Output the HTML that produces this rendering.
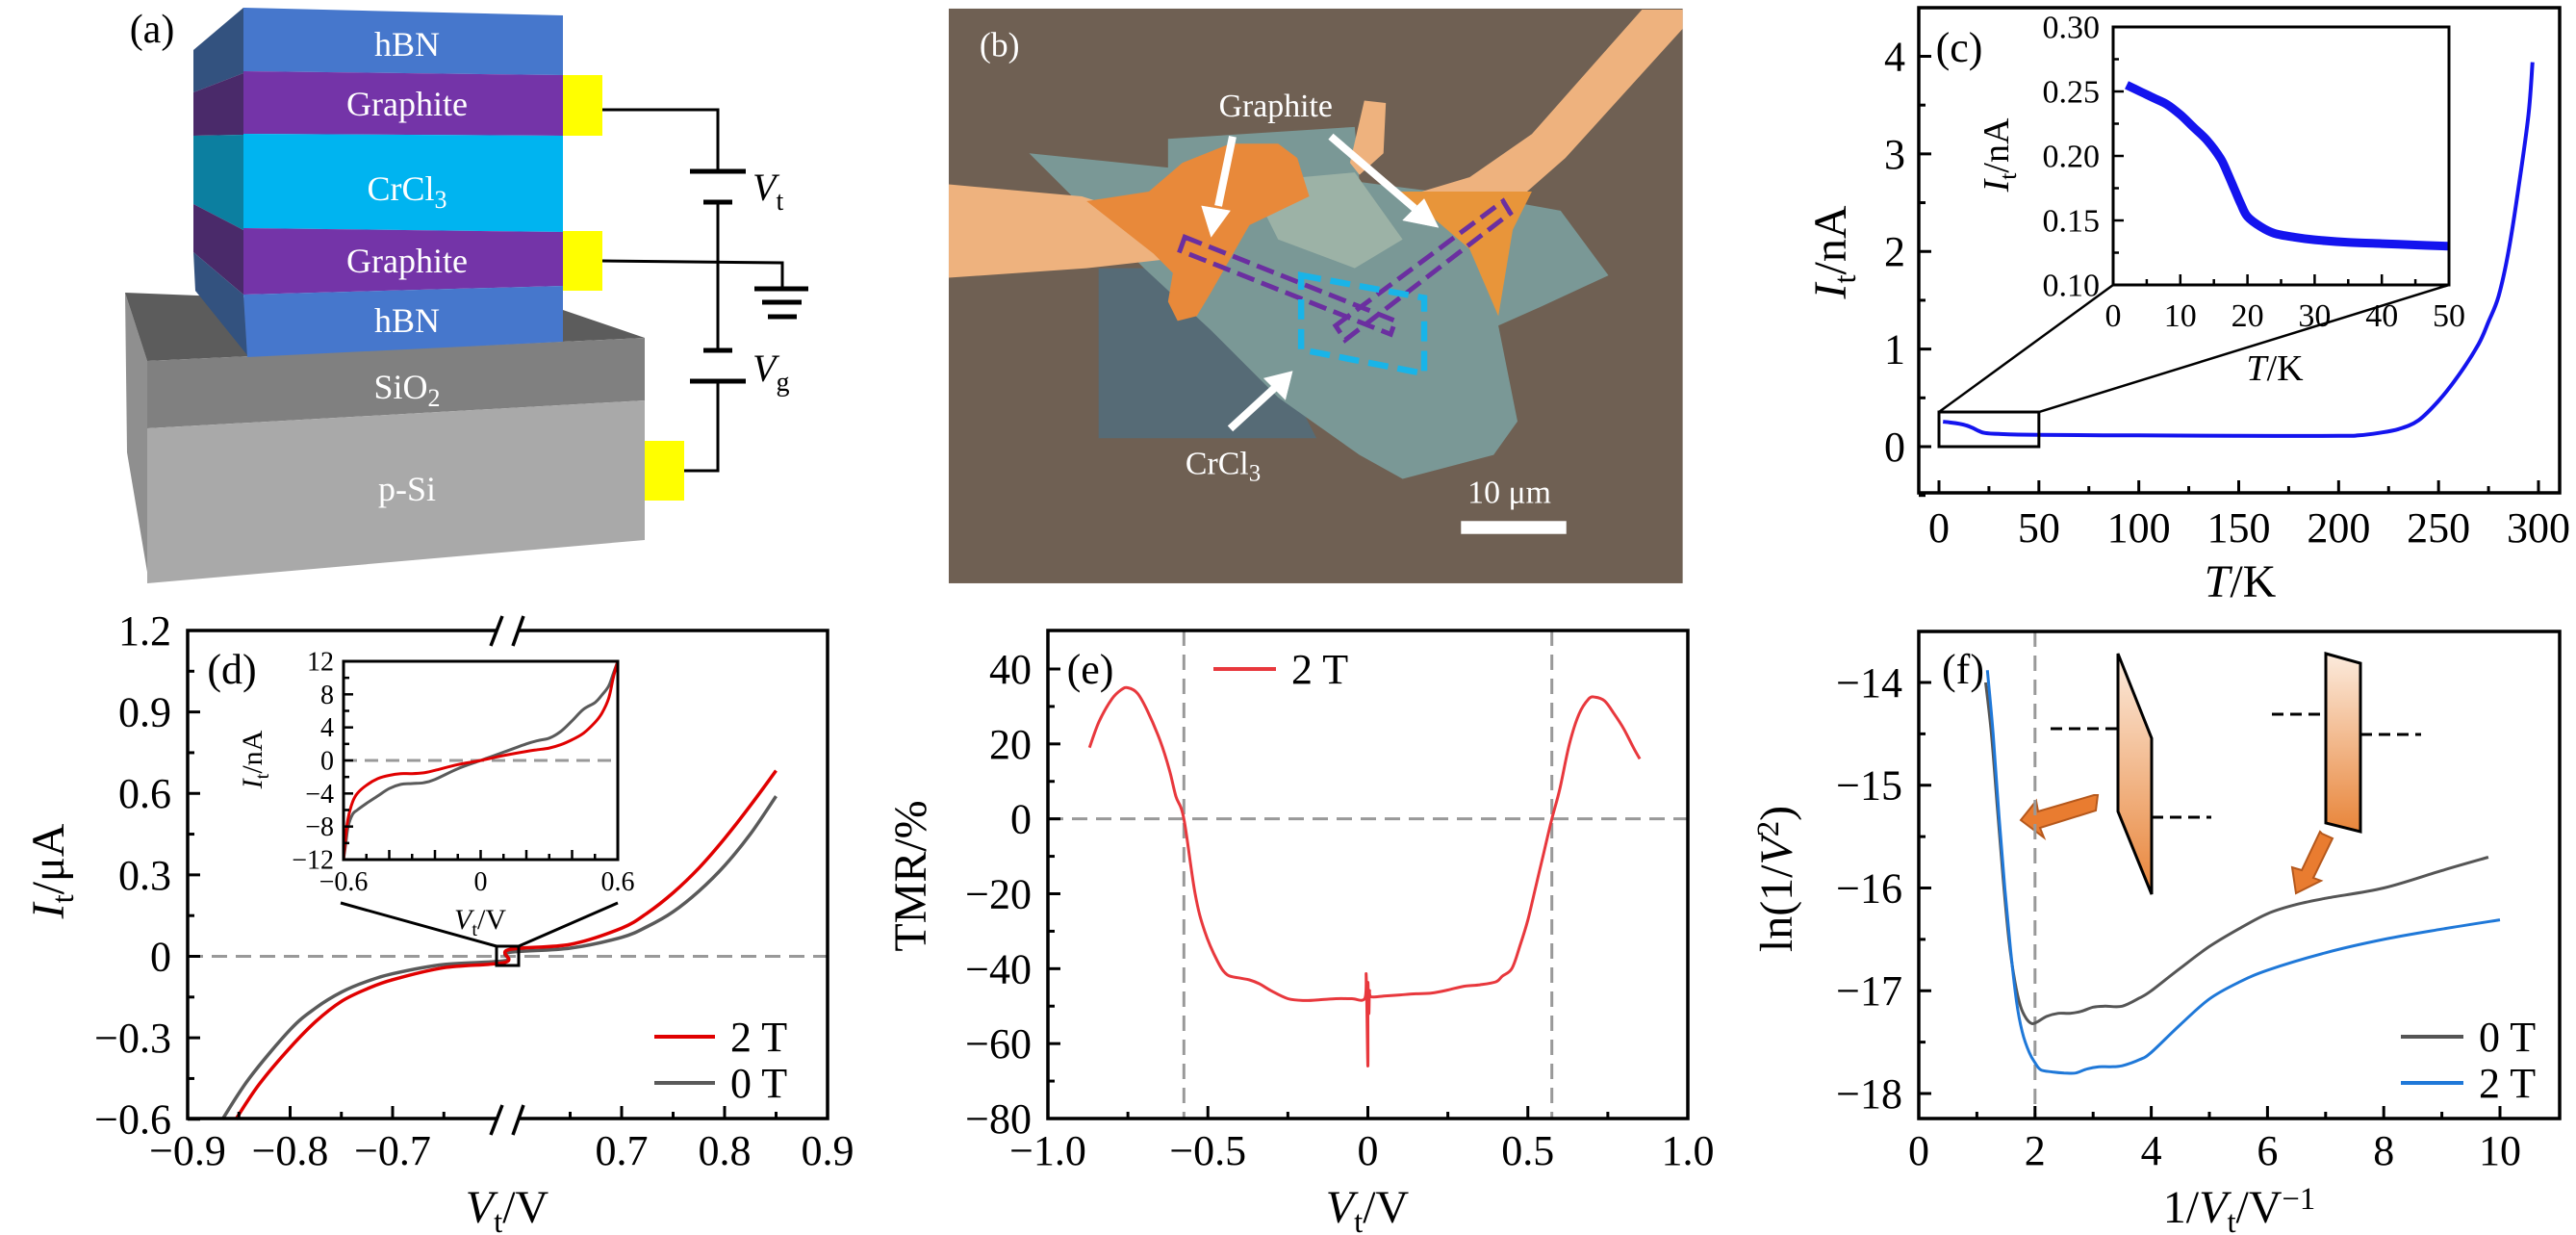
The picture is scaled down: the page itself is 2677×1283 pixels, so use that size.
<!DOCTYPE html>
<html><head><meta charset="utf-8"><style>
html,body{margin:0;padding:0;background:#fff;}
svg{display:block;font-family:"Liberation Serif",serif;}
</style></head><body>
<svg id="fig" width="2677" height="1283" viewBox="0 0 2677 1283" xmlns="http://www.w3.org/2000/svg">
<defs>
<linearGradient id="barrier" x1="0" y1="0" x2="0" y2="1"><stop offset="0" stop-color="#fcebdd"/><stop offset="1" stop-color="#e8853a"/></linearGradient>
</defs>
<!-- Panel (a) -->
<g>
<text x="158" y="44" font-size="42" text-anchor="middle">(a)</text>
<polygon points="130,304 153,375 155,606 132,470" fill="#8f8f8f"/>
<polygon points="130,304 585,322 670,351 153,375" fill="#5c5c5c"/>
<polygon points="153,375 670,351 670,416 153,445" fill="#808080"/>
<polygon points="153,445 670,416 670,561 153,606" fill="#a9a9a9"/>
<polygon points="201,52 253,8 253,76 201,96" fill="#33527f"/>
<polygon points="201,96 253,76 253,140 201,141" fill="#4a2a6a"/>
<polygon points="201,141 253,140 253,239 201,212" fill="#0c7fa0"/>
<polygon points="201,212 253,239 253,306 201,262" fill="#4a2a6a"/>
<polygon points="201,262 253,306 257,369 203,302" fill="#33527f"/>
<polygon points="253,8 585,16 585,78 253,74" fill="#4677cc"/>
<polygon points="253,74 585,78 585,141 253,139" fill="#7434a8"/>
<polygon points="253,139 585,141 585,241 253,237" fill="#00b4f0"/>
<polygon points="253,237 585,241 585,297 253,306" fill="#7434a8"/>
<polygon points="253,306 585,297 585,355 257,371" fill="#4677cc"/>
<g fill="#fff" font-size="36" text-anchor="middle">
<text x="423" y="58">hBN</text>
<text x="423" y="120">Graphite</text>
<text x="423" y="208">CrCl<tspan font-size="26" dy="8">3</tspan></text>
<text x="423" y="283">Graphite</text>
<text x="423" y="345">hBN</text>
<text x="423" y="414">SiO<tspan font-size="26" dy="8">2</tspan></text>
<text x="423" y="520">p-Si</text>
</g>
<rect x="585" y="78" width="41" height="63" fill="#ffff00"/>
<rect x="585" y="240" width="41" height="62" fill="#ffff00"/>
<rect x="670" y="458" width="41" height="62" fill="#ffff00"/>
<g stroke="#000" stroke-width="3" fill="none">
<polyline points="626,114 746,114 746,178"/>
<polyline points="746,210 746,364"/>
<polyline points="746,396 746,489 711,489"/>
<polyline points="626,271 813,273 813,300"/>
</g>
<g stroke="#000" stroke-width="5">
<line x1="717" y1="178" x2="775" y2="178"/><line x1="731" y1="210" x2="761" y2="210"/>
<line x1="731" y1="364" x2="761" y2="364"/><line x1="717" y1="396" x2="775" y2="396"/>
<line x1="784" y1="300" x2="840" y2="300"/><line x1="792" y1="314" x2="833" y2="314"/><line x1="798" y1="329" x2="828" y2="329"/>
</g>
<text x="782" y="208" font-size="40" font-style="italic">V<tspan font-style="normal" font-size="28" dy="10">t</tspan></text>
<text x="782" y="396" font-size="40" font-style="italic">V<tspan font-style="normal" font-size="28" dy="10">g</tspan></text>
</g>
<!-- Panel (b) -->
<g transform="translate(980,0) scale(0.4975)">
<rect x="12" y="18" width="1533" height="1200" fill="#6f6053"/>
<polygon points="325,560 600,560 780,915 325,915" fill="#566b76"/>
<polygon points="470,290 860,265 870,380 1180,420 1290,440 1390,575 1250,640 1160,680 1200,880 1150,950 960,1000 870,950 700,830 560,690 420,560 180,320 470,350" fill="#7a9896"/>
<polygon points="640,380 860,360 960,500 860,560 700,500" fill="#9cb2a6"/>
<polygon points="12,385 290,410 480,470 480,540 300,560 12,580" fill="#eeb27e"/>
<polygon points="1460,20 1545,20 1545,60 1300,330 1220,400 1000,400 1100,370 1230,280" fill="#eeb27e"/>
<polygon points="880,210 925,215 920,320 870,365 850,340" fill="#eeb27e"/>
<polygon points="430,400 500,340 600,300 700,300 740,330 765,410 640,470 560,610 530,660 490,670 470,630 480,570 440,530 300,420" fill="#e8893a"/>
<polygon points="950,400 1230,400 1190,480 1170,600 1160,660 1130,590 1100,520 1030,460" fill="#e8953a"/>
<g fill="none" stroke="#6b2fa0" stroke-width="10" stroke-dasharray="38 16">
<polygon points="505,495 945,670 935,698 495,523"/>
<polygon points="820,680 1170,420 1185,445 840,710"/>
</g>
<polygon points="748,575 1005,622 1005,780 748,730" fill="none" stroke="#19b4e8" stroke-width="13" stroke-dasharray="42 20"/>
<g fill="#fff" stroke="#fff">
<line x1="605" y1="285" x2="575" y2="430" stroke-width="16"/>
<polygon points="540,430 600,440 560,495"/>
<line x1="810" y1="285" x2="985" y2="435" stroke-width="16"/>
<polygon points="960,460 1005,415 1035,475"/>
<line x1="600" y1="895" x2="695" y2="808" stroke-width="16"/>
<polygon points="670,790 715,835 730,775"/>
</g>
<g fill="#fff" font-size="68" text-anchor="middle">
<text x="118" y="118" font-size="72">(b)</text>
<text x="695" y="243">Graphite</text>
<text x="585" y="990">CrCl<tspan font-size="50" dy="14">3</tspan></text>
<text x="1183" y="1050">10 μm</text>
</g>
<rect x="1082" y="1088" width="220" height="27" fill="#fff"/>
</g>
<!-- Panel (f) schematics -->
<g id="fdeco">
<polygon points="2201,679 2236,767 2236,929 2201,843" fill="url(#barrier)" stroke="#000" stroke-width="3"/>
<polygon points="2417,679 2453,689 2453,864 2417,855" fill="url(#barrier)" stroke="#000" stroke-width="3"/>
<g stroke="#000" stroke-width="3" stroke-dasharray="12 7">
<line x1="2131" y1="757" x2="2201" y2="757"/><line x1="2236" y1="849" x2="2298" y2="849"/>
<line x1="2361" y1="742" x2="2417" y2="742"/><line x1="2453" y1="763" x2="2516" y2="763"/>
</g>
<polygon points="2180,826 2178,842 2120,860 2124,870 2100,852 2116,832 2118,843 2176,826" fill="#e97c30" stroke="#b5581c" stroke-width="2"/>
<polygon points="2413,866 2424,871 2404,912 2412,915 2386,928 2382,901 2392,904 2411,864" fill="#e97c30" stroke="#b5581c" stroke-width="2"/>
</g>
<g id="plots"></g>
</svg>
<script>
// ---- data: panel (c)
const cT=[2,5,10,14,17,20,23,30,50,100,150,200,210,220,230,240,250,260,270,275,280,285,290,295,297];
const cI=[0.255,0.25,0.235,0.215,0.19,0.16,0.14,0.13,0.12,0.115,0.11,0.11,0.115,0.14,0.18,0.27,0.47,0.73,1.05,1.28,1.54,2.0,2.65,3.4,3.94];
const cInsetT=[2,4,6,8,10,12,14,16,17,18,19,20,22,24,27,30,35,40,45,50];
const cInsetI=[0.255,0.25,0.245,0.24,0.232,0.222,0.212,0.198,0.187,0.175,0.163,0.153,0.145,0.14,0.137,0.135,0.133,0.132,0.131,0.13];
const cXTicks=[0,50,100,150,200,250,300];
const cYTicks=[0,1,2,3,4];
const cInXTicks=[0,10,20,30,40,50];
const cInYTicks=[0.10,0.15,0.20,0.25,0.30];
const cInYLabels=["0.10","0.15","0.20","0.25","0.30"];
// ---- data: panel (d)
const dV2=[-0.853,-0.83,-0.8,-0.775,-0.75,-0.725,-0.7,-0.65,-0.59,0.59,0.65,0.7,0.725,0.75,0.775,0.8,0.825,0.85];
const dI2=[-0.6,-0.47,-0.336,-0.24,-0.166,-0.12,-0.086,-0.042,-0.022,0.024,0.044,0.104,0.16,0.234,0.325,0.434,0.555,0.684];
const dV0=[-0.866,-0.84,-0.8,-0.775,-0.75,-0.725,-0.7,-0.65,-0.59,0.59,0.65,0.7,0.725,0.75,0.775,0.8,0.825,0.85];
const dI0=[-0.6,-0.45,-0.27,-0.19,-0.132,-0.092,-0.064,-0.03,-0.016,0.014,0.03,0.07,0.11,0.164,0.24,0.334,0.45,0.59];
const dInV=[-0.6,-0.59,-0.58,-0.56,-0.54,-0.5,-0.45,-0.4,-0.35,-0.3,-0.25,-0.2,-0.1,0,0.1,0.2,0.25,0.3,0.35,0.4,0.45,0.5,0.53,0.56,0.58,0.6];
const dInI2=[-12,-9,-7,-5,-4,-3,-2.2,-1.8,-1.6,-1.6,-1.5,-1.2,-0.5,0,0.6,1.1,1.3,1.5,1.9,2.5,3.3,4.6,5.7,7.5,10,12];
const dInI0=[-12,-10,-8,-6.5,-6,-5.2,-4.3,-3.4,-2.9,-2.8,-2.7,-2.3,-1.0,0,1.0,2.0,2.4,2.7,3.5,4.8,6.2,7.0,7.9,9,10.5,12];
const dYTicks=[-0.6,-0.3,0,0.3,0.6,0.9,1.2];
const dYLabels=["\u22120.6","\u22120.3","0","0.3","0.6","0.9","1.2"];
const dXTicks=[-0.9,-0.8,-0.7,0.7,0.8,0.9];
const dXLabels=["\u22120.9","\u22120.8","\u22120.7","0.7","0.8","0.9"];
const dXMinor=[-0.85,-0.75,-0.65,0.65,0.75,0.85];
const dInXTicks=[-0.6,0,0.6];
const dInXLabels=["\u22120.6","0","0.6"];
const dInYTicks=[-12,-8,-4,0,4,8,12];
const dInYLabels=["\u221212","\u22128","\u22124","0","4","8","12"];
// ---- data: panel (e)
const eV=[-0.87,-0.84,-0.8,-0.77,-0.75,-0.72,-0.69,-0.65,-0.62,-0.6,-0.575,-0.54,-0.51,-0.47,-0.44,-0.4,-0.37,-0.34,-0.3,-0.25,-0.2,-0.15,-0.1,-0.05,-0.01,-0.005,0,0,0.003,0.005,0.01,0.05,0.1,0.15,0.2,0.25,0.3,0.35,0.4,0.42,0.45,0.475,0.5,0.525,0.55,0.575,0.6,0.63,0.66,0.69,0.71,0.74,0.77,0.8,0.83,0.85];
const eTMR=[19,26,32,34.5,35,33.5,29,21,13,6,0,-20,-30,-38,-41.6,-42.5,-43,-44,-46,-48,-48.5,-48.3,-48,-48,-48,-42,-66,-44,-52,-46,-47.5,-47.3,-47,-46.7,-46.5,-45.7,-44.7,-44.3,-43.5,-42,-40,-34,-27,-18,-9,0,8,20,28,32,32.5,31.5,28,24,19,16];
const eXTicks=[-1,-0.5,0,0.5,1];
const eXLabels=["\u22121.0","\u22120.5","0","0.5","1.0"];
const eYTicks=[-80,-60,-40,-20,0,20,40];
const eYLabels=["\u221280","\u221260","\u221240","\u221220","0","20","40"];
// ---- data: panel (f)
const fX0=[1.15,1.25,1.35,1.45,1.55,1.65,1.75,1.85,1.95,2.05,2.2,2.4,2.6,2.8,3.0,3.2,3.5,3.8,4.0,4.5,5.0,5.5,6.0,6.5,7.0,8.0,9.0,9.8];
const fY0=[-14.0,-14.5,-15.2,-15.9,-16.5,-16.9,-17.15,-17.27,-17.32,-17.3,-17.25,-17.22,-17.22,-17.2,-17.16,-17.15,-17.15,-17.07,-17.0,-16.78,-16.57,-16.4,-16.25,-16.16,-16.1,-16.0,-15.83,-15.7];
const fX2=[1.18,1.28,1.38,1.48,1.58,1.68,1.78,1.9,2.0,2.1,2.3,2.5,2.7,2.9,3.1,3.3,3.5,3.8,4.0,4.5,5.0,5.5,6.0,7.0,8.0,9.0,10.0];
const fY2=[-13.88,-14.5,-15.3,-16.0,-16.6,-17.1,-17.4,-17.6,-17.7,-17.77,-17.79,-17.8,-17.8,-17.76,-17.74,-17.74,-17.73,-17.67,-17.6,-17.33,-17.08,-16.92,-16.8,-16.63,-16.5,-16.4,-16.31];
const fXTicks=[0,2,4,6,8,10];
const fYTicks=[-18,-17,-16,-15,-14];
const fYLabels=["\u221218","\u221217","\u221216","\u221215","\u221214"];

const NS="http://www.w3.org/2000/svg";
const root=document.getElementById('plots');
function mk(tag,parent){const e=document.createElementNS(NS,tag);(parent||root).appendChild(e);return e;}
function lin(d0,d1,r0,r1){return v=>r0+(v-d0)*(r1-r0)/(d1-d0);}
function pathD(xs,ys,sx,sy){
  const P=xs.map((x,i)=>[sx(x),sy(ys[i])]);
  let d="M"+P[0][0].toFixed(1)+","+P[0][1].toFixed(1);
  for(let i=0;i<P.length-1;i++){
    const p0=P[Math.max(0,i-1)],p1=P[i],p2=P[i+1],p3=P[Math.min(P.length-1,i+2)];
    const t=1/6;
    const c1=[p1[0]+(p2[0]-p0[0])*t,p1[1]+(p2[1]-p0[1])*t];
    const c2=[p2[0]-(p3[0]-p1[0])*t,p2[1]-(p3[1]-p1[1])*t];
    d+="C"+c1[0].toFixed(1)+","+c1[1].toFixed(1)+" "+c2[0].toFixed(1)+","+c2[1].toFixed(1)+" "+p2[0].toFixed(1)+","+p2[1].toFixed(1);
  }
  return d;
}
function series(xs,ys,sx,sy,color,w,name){
  const p=mk('path');
  p.setAttribute('d',pathD(xs,ys,sx,sy));
  p.setAttribute('fill','none');p.setAttribute('stroke',color);p.setAttribute('stroke-width',w);
  p.setAttribute('stroke-linejoin','round');
  
  
  return p;
}
function seg(x1,y1,x2,y2,w,color,dash){
  const l=mk('line');
  l.setAttribute('x1',x1);l.setAttribute('y1',y1);l.setAttribute('x2',x2);l.setAttribute('y2',y2);
  l.setAttribute('stroke',color||'#000');l.setAttribute('stroke-width',w);
  if(dash)l.setAttribute('stroke-dasharray',dash);
  return l;
}
function txt(x,y,s,size,anchor){
  const t=mk('text');
  t.setAttribute('x',x);t.setAttribute('y',y);t.setAttribute('font-size',size);
  t.setAttribute('text-anchor',anchor||'middle');
  t.textContent=s;
  return t;
}
function box(L,T,R,B,w,name){
  const r=mk('rect');
  r.setAttribute('x',L);r.setAttribute('y',T);r.setAttribute('width',R-L);r.setAttribute('height',B-T);
  r.setAttribute('fill','none');r.setAttribute('stroke','#000');r.setAttribute('stroke-width',w);
  
  
}
function xTicks(vals,labels,sx,B,len,lw,ly,fs,nm){
  vals.forEach((v,i)=>{
    const l=seg(sx(v),B,sx(v),B-len,lw);
    
    
    if(labels){
      const t=txt(sx(v),ly,labels[i],fs);
      
      
    }
  });
}
function yTicks(vals,labels,sy,L,len,lw,lx,fs,nm){
  vals.forEach((v,i)=>{
    const l=seg(L,sy(v),L+len,sy(v),lw);
    
    
    if(labels){
      const t=txt(lx,sy(v)+fs*0.34,labels[i],fs,'end');
      
      
    }
  });
}
function minors(major){const out=[];for(let i=0;i<major.length-1;i++)out.push((major[i]+major[i+1])/2);return out;}
// parts: [text, italic, dy, small]
function richLabel(x,y,size,rot,parts,nm){
  const t=mk('text');
  t.setAttribute('x',x);t.setAttribute('y',y);t.setAttribute('font-size',size);t.setAttribute('text-anchor','middle');
  if(rot)t.setAttribute('transform','rotate(-90 '+x+' '+y+')');
  parts.forEach(p=>{const s=mk('tspan',t);s.textContent=p[0];if(p[1])s.setAttribute('font-style','italic');if(p[2])s.setAttribute('dy',p[2]);if(p[3])s.setAttribute('font-size',size*0.68);});
  
  
  return t;
}
function legend(x1,x2,y,color,label,fs,nm){
  const l=seg(x1,y,x2,y,4,color);
  
  
  const t=txt(x2+16,y+fs*0.34,label,fs,'start');
  
  
}
function cap(x,y,s,nm){const t=txt(x,y,s,44);}

// ===== Panel (c)
{
const sx=lin(0,300,2015,2638), sy=lin(0,4,464,58.5);
box(1994,8,2660,512,3.5,'panel-c-axes');
xTicks(cXTicks,cXTicks.map(String),sx,512,13,3,563,44,'c');
xTicks(minors(cXTicks),null,sx,512,7,3,0,0,'c-minor');
yTicks(cYTicks,cYTicks.map(String),sy,1994,13,3,1980,44,'c');
yTicks([-0.5,0.5,1.5,2.5,3.5],null,sy,1994,7,3,0,0,'c-minor');
richLabel(2328,620,48,false,[["T",1],["/K"]],'c-x-axis-title');
richLabel(1918,262,48,true,[["I",1],["t",0,10,1],["/nA",0,-10]],'c-y-axis-title');
cap(2036,64,'(c)','panel-c-label');
series(cT,cI,sx,sy,'#1414ee',4,'c-current-curve');
const zb=mk('rect');zb.setAttribute('x',sx(0));zb.setAttribute('y',sy(0.355));zb.setAttribute('width',sx(50)-sx(0));zb.setAttribute('height',sy(0)-sy(0.355));zb.setAttribute('fill','none');zb.setAttribute('stroke','#000');zb.setAttribute('stroke-width',3);


const z1=seg(sx(0),sy(0.355),2196,296,2.5);


const z2=seg(sx(50),sy(0.355),2545,296,2.5);


// inset
const ix=lin(0,50,2196,2545), iy=lin(0.1,0.3,296,28);
const bg=mk('rect');bg.setAttribute('x',2196);bg.setAttribute('y',28);bg.setAttribute('width',349);bg.setAttribute('height',268);bg.setAttribute('fill','#fff');


series(cInsetT,cInsetI,ix,iy,'#1414ee',9,'c-inset-curve');
box(2196,28,2545,296,3,'c-inset-axes');
xTicks(cInXTicks,cInXTicks.map(String),ix,296,11,2.5,339,34,'c-inset');
xTicks(minors(cInXTicks),null,ix,296,6,2.5,0,0,'c-inset-minor');
yTicks(cInYTicks,cInYLabels,iy,2196,11,2.5,2182,34,'c-inset');
yTicks(minors(cInYTicks),null,iy,2196,6,2.5,0,0,'c-inset-minor');
richLabel(2364,395,38,false,[["T",1],["/K"]],'c-inset-x-axis-title');
richLabel(2087,161,38,true,[["I",1],["t",0,8,1],["/nA",0,-8]],'c-inset-y-axis-title');
}
// ===== Panel (d)
{
const sx=v=>v<=-0.588?195+(v+0.9)*1065:(v>=0.589?860-(0.9-v)*1070:527+v*18), sy=lin(0,1.2,993.5,655);
const zl=seg(195,sy(0),860,sy(0),3,'#999','16 9');


series(dV0,dI0,sx,sy,'#5a5a5a',3.5,'d-0t-curve');
series(dV2,dI2,sx,sy,'#e00000',3.5,'d-2t-curve');
const ax=mk('path');ax.setAttribute('d','M516,655H195V1162H516M538,1162H860V655H538');ax.setAttribute('fill','none');ax.setAttribute('stroke','#000');ax.setAttribute('stroke-width',3.5);


[[510,671,522,640],[533,671,544,640],[510,1179,522,1148],[533,1179,544,1148]].forEach(s=>{const l=seg(s[0],s[1],s[2],s[3],3.5);

});
xTicks(dXTicks,dXLabels,sx,1162,13,3,1210,44,'d');
xTicks(dXMinor,null,sx,1162,7,3,0,0,'d-minor');
yTicks(dYTicks,dYLabels,sy,195,13,3,178,44,'d');
yTicks(minors(dYTicks),null,sy,195,7,3,0,0,'d-minor');
richLabel(527,1270,48,false,[["V",1],["t",0,10,1],["/V",0,-10]],'d-x-axis-title');
richLabel(66,905,48,true,[["I",1],["t",0,10,1],["/μA",0,-10]],'d-y-axis-title');
cap(241,710,'(d)','panel-d-label');
legend(680,743,1077,'#e00000','2 T',44,'d-legend-2t');
legend(680,743,1125,'#5a5a5a','0 T',44,'d-legend-0t');
const zb=mk('rect');zb.setAttribute('x',516);zb.setAttribute('y',983);zb.setAttribute('width',23);zb.setAttribute('height',20);zb.setAttribute('fill','none');zb.setAttribute('stroke','#000');zb.setAttribute('stroke-width',3);


const z1=seg(354,938,516,983,3);


const z2=seg(642,938,539,983,3);


const ix=lin(-0.6,0.6,357,642), iy=lin(-12,12,893,687);
const il=seg(357,iy(0),642,iy(0),3,'#999','14 8');


series(dInV,dInI0,ix,iy,'#5a5a5a',3,'d-inset-0t-curve');
series(dInV,dInI2,ix,iy,'#e00000',3,'d-inset-2t-curve');
box(357,687,642,893,3,'d-inset-axes');
xTicks([-0.6,-0.4,-0.2,0,0.2,0.4,0.6],null,ix,893,10,2.5,0,0,'d-inset');
xTicks([-0.5,-0.3,-0.1,0.1,0.3,0.5],null,ix,893,6,2.5,0,0,'d-inset-minor');
xTicks(dInXTicks,dInXLabels,ix,893,0,0,925,28,'d-inset-label');
yTicks(dInYTicks,dInYLabels,iy,357,10,2.5,347,28,'d-inset');
yTicks(minors(dInYTicks),null,iy,357,6,2.5,0,0,'d-inset-minor');
richLabel(499,965,30,false,[["V",1],["t",0,7,1],["/V",0,-7]],'d-inset-x-axis-title');
richLabel(272,789,30,true,[["I",1],["t",0,7,1],["/nA",0,-7]],'d-inset-y-axis-title');
}
// ===== Panel (e)
{
const sx=lin(-1,1,1089,1754), sy=lin(-80,40,1162,695);
[-0.575,0.575].forEach(v=>{const l=seg(sx(v),655,sx(v),1162,3,'#999','16 9');

});
const zl=seg(1089,sy(0),1754,sy(0),3,'#999','16 9');


series(eV,eTMR,sx,sy,'#e8383d',3,'e-tmr-curve');
box(1089,655,1754,1162,3.5,'panel-e-axes');
xTicks(eXTicks,eXLabels,sx,1162,13,3,1210,44,'e');
xTicks(minors(eXTicks),null,sx,1162,7,3,0,0,'e-minor');
yTicks(eYTicks,eYLabels,sy,1089,13,3,1072,44,'e');
yTicks(minors(eYTicks),null,sy,1089,7,3,0,0,'e-minor');
richLabel(1421,1270,48,false,[["V",1],["t",0,10,1],["/V",0,-10]],'e-x-axis-title');
richLabel(962,910,48,true,[["TMR/%"]],'e-y-axis-title');
cap(1133,710,'(e)','panel-e-label');
legend(1261,1326,695,'#e8383d','2 T',44,'e-legend-2t');
}
// ===== Panel (f)
{
const sx=lin(0,10,1994,2598), sy=lin(-14,-18,709,1136);
const dl=seg(sx(2),656,sx(2),1162,3,'#999','16 9');


series(fX0,fY0,sx,sy,'#555555',3,'f-0t-curve');
series(fX2,fY2,sx,sy,'#1f78d8',3,'f-2t-curve');
box(1994,656,2660,1162,3.5,'panel-f-axes');
xTicks(fXTicks,fXTicks.map(String),sx,1162,13,3,1210,44,'f');
xTicks([1,3,5,7,9],null,sx,1162,7,3,0,0,'f-minor');
yTicks(fYTicks,fYLabels,sy,1994,13,3,1977,44,'f');
yTicks(minors(fYTicks),null,sy,1994,7,3,0,0,'f-minor');
richLabel(2327,1270,48,false,[["1/"],["V",1],["t",0,10,1],["/V",0,-10],["−1",0,-14,1]],'f-x-axis-title');
richLabel(1862,913,48,true,[["ln(1/"],["V",1],["2",0,-14,1],[")",0,14]],'f-y-axis-title');
cap(2040,710,'(f)','panel-f-label');
legend(2495,2560,1077,'#555555','0 T',44,'f-legend-0t');
legend(2495,2560,1125,'#1f78d8','2 T',44,'f-legend-2t');
}
</script>
</body></html>
